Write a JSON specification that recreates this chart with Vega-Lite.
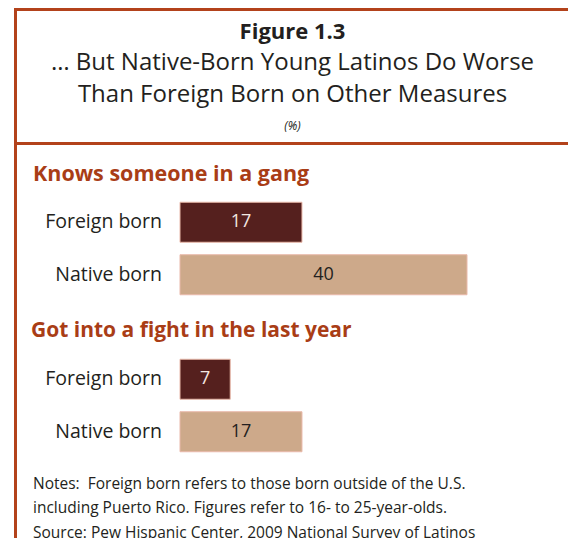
{
  "$schema": "https://vega.github.io/schema/vega-lite/v6.json",
  "background": "white",
  "padding": {"top": 8, "left": 14, "right": 0, "bottom": 0},
  "config": {
    "font": "Open Sans",
    "view": {"stroke": null},
    "title": {"font": "Open Sans"}
  },
  "datasets": {
    "header": [
      {"line": "1", "text": "Figure 1.3"},
      {"line": "2", "text": "… But Native-Born Young Latinos Do Worse"},
      {"line": "3", "text": "Than Foreign Born on Other Measures"},
      {"line": "4", "text": "(%)"}
    ],
    "bars": [
      {"measure": "Knows someone in a gang", "nativity": "Foreign born", "value": 17},
      {"measure": "Knows someone in a gang", "nativity": "Native born", "value": 40},
      {"measure": "Got into a fight in the last year", "nativity": "Foreign born", "value": 7},
      {"measure": "Got into a fight in the last year", "nativity": "Native born", "value": 17}
    ]
  },
  "align": "none",
  "spacing": 0,
  "hconcat": [
    {
      "width": 3, "height": 530,
      "view": {"fill": "#b3421b", "stroke": null},
      "data": {"values": []},
      "mark": "point",
      "encoding": {}
    },
    {
      "align": "none",
      "spacing": 18,
      "vconcat": [
        {
          "align": "none",
          "spacing": 0,
          "vconcat": [
            {
              "width": 551, "height": 3,
              "view": {"fill": "#b3421b", "stroke": null},
              "data": {"values": []},
              "mark": "point",
              "encoding": {}
            },
            {
              "width": 551, "height": 131,
              "data": {"name": "header"},
              "encoding": {
                "y": {"field": "line", "type": "ordinal", "scale": {"type": "point", "padding": 0.57}, "axis": null},
                "text": {"field": "text"}
              },
              "layer": [
                {"transform": [{"filter": "datum.line === '1'"}], "mark": {"type": "text", "fontSize": 22, "fontWeight": "bold", "color": "#231f20", "baseline": "middle", "dy": 2.5}},
                {"transform": [{"filter": "datum.line === '2' || datum.line === '3'"}], "mark": {"type": "text", "fontSize": 24, "color": "#231f20", "baseline": "middle", "dy": 2.5}},
                {"transform": [{"filter": "datum.line === '4'"}], "mark": {"type": "text", "fontSize": 12, "fontStyle": "italic", "color": "#231f20", "baseline": "middle", "dy": 2.5}}
              ]
            },
            {
              "width": 551, "height": 3,
              "view": {"fill": "#b3421b", "stroke": null},
              "data": {"values": []},
              "mark": "point",
              "encoding": {}
            }
          ]
        },
        {
          "align": "none",
          "spacing": 19,
          "vconcat": [
            {
              "title": {"text": "Knows someone in a gang", "anchor": "start", "frame": "bounds", "dx": 16, "offset": -6, "baseline": "alphabetic", "fontSize": 21.5, "fontWeight": "bold", "color": "#a93d16"},
              "data": {"name": "bars"},
              "transform": [
                {"filter": "datum.measure === 'Knows someone in a gang'"},
                {"calculate": "datum.value / 2", "as": "mid"}
              ],
              "align": "none",
              "spacing": 17,
              "hconcat": [
                {
                  "width": 145, "height": 105,
                  "mark": {"type": "text", "align": "right", "baseline": "middle", "fontSize": 19.5, "color": "#231f20"},
                  "encoding": {
                    "y": {"field": "nativity", "type": "nominal", "sort": ["Foreign born", "Native born"], "scale": {"paddingInner": 0.238, "paddingOuter": 0.119}, "axis": null},
                    "x": {"value": "width"},
                    "text": {"field": "nativity"}
                  }
                },
                {
                  "width": 287, "height": 105,
                  "encoding": {
                    "y": {"field": "nativity", "type": "nominal", "sort": ["Foreign born", "Native born"], "scale": {"paddingInner": 0.238, "paddingOuter": 0.119}, "axis": null}
                  },
                  "layer": [
                    {
                      "mark": {"type": "bar", "stroke": "#e9b9aa", "strokeWidth": 1},
                      "encoding": {
                        "x": {"field": "value", "type": "quantitative", "scale": {"domain": [0, 40], "nice": false}, "axis": null},
                        "color": {"field": "nativity", "type": "nominal", "scale": {"domain": ["Foreign born", "Native born"], "range": ["#55201e", "#cda98a"]}, "legend": null}
                      }
                    },
                    {
                      "mark": {"type": "text", "fontSize": 18},
                      "encoding": {
                        "x": {"field": "mid", "type": "quantitative"},
                        "text": {"field": "value", "type": "quantitative"},
                        "color": {"condition": {"test": "datum.nativity === 'Foreign born'", "value": "#f3e7e1"}, "value": "#231f20"}
                      }
                    }
                  ]
                }
              ]
            },
            {
              "title": {"text": "Got into a fight in the last year", "anchor": "start", "frame": "bounds", "dx": 14, "offset": -5, "baseline": "alphabetic", "fontSize": 21, "fontWeight": "bold", "color": "#a93d16"},
              "data": {"name": "bars"},
              "transform": [
                {"filter": "datum.measure === 'Got into a fight in the last year'"},
                {"calculate": "datum.value / 2", "as": "mid"}
              ],
              "align": "none",
              "spacing": 17,
              "hconcat": [
                {
                  "width": 145, "height": 105,
                  "mark": {"type": "text", "align": "right", "baseline": "middle", "fontSize": 19.5, "color": "#231f20"},
                  "encoding": {
                    "y": {"field": "nativity", "type": "nominal", "sort": ["Foreign born", "Native born"], "scale": {"paddingInner": 0.238, "paddingOuter": 0.119}, "axis": null},
                    "x": {"value": "width"},
                    "text": {"field": "nativity"}
                  }
                },
                {
                  "width": 287, "height": 105,
                  "encoding": {
                    "y": {"field": "nativity", "type": "nominal", "sort": ["Foreign born", "Native born"], "scale": {"paddingInner": 0.238, "paddingOuter": 0.119}, "axis": null}
                  },
                  "layer": [
                    {
                      "mark": {"type": "bar", "stroke": "#e9b9aa", "strokeWidth": 1},
                      "encoding": {
                        "x": {"field": "value", "type": "quantitative", "scale": {"domain": [0, 40], "nice": false}, "axis": null},
                        "color": {"field": "nativity", "type": "nominal", "scale": {"domain": ["Foreign born", "Native born"], "range": ["#55201e", "#cda98a"]}, "legend": null}
                      }
                    },
                    {
                      "mark": {"type": "text", "fontSize": 18},
                      "encoding": {
                        "x": {"field": "mid", "type": "quantitative"},
                        "text": {"field": "value", "type": "quantitative"},
                        "color": {"condition": {"test": "datum.nativity === 'Foreign born'", "value": "#f3e7e1"}, "value": "#231f20"}
                      }
                    }
                  ]
                }
              ]
            }
          ]
        },
        {
          "width": 551, "height": 1,
          "data": {"values": []},
          "mark": "point",
          "encoding": {},
          "title": {
            "text": [
              "Notes:\u00a0 Foreign born refers to those born outside of the U.S.",
              "including Puerto Rico. Figures refer to 16- to 25-year-olds.",
              "Source: Pew Hispanic Center, 2009 National Survey of Latinos"
            ],
            "anchor": "start", "frame": "bounds", "orient": "top", "baseline": "top", "offset": 0, "dx": 16, "dy": -2,
            "fontSize": 15.5, "fontWeight": "normal", "lineHeight": 24.5, "color": "#231f20"
          }
        }
      ]
    }
  ]
}
